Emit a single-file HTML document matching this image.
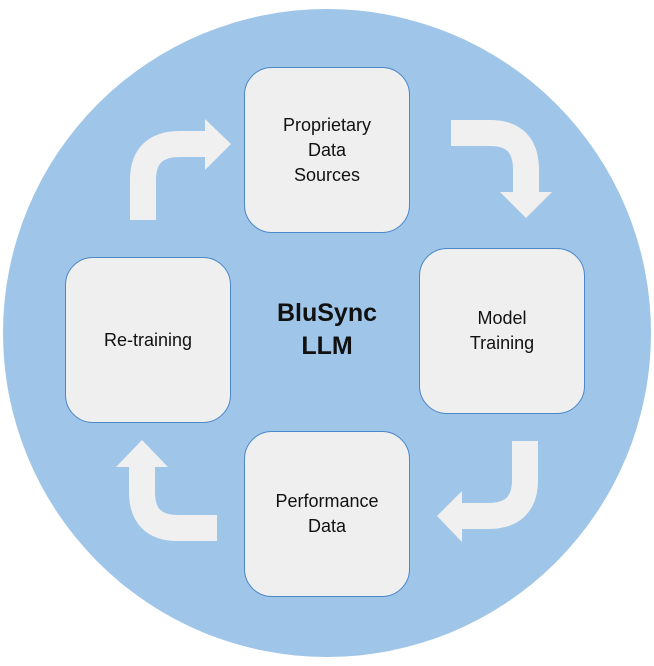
<!DOCTYPE html>
<html><head><style>
html,body{margin:0;padding:0;background:#fff;}
.box{position:absolute;width:166px;height:166px;background:#efefef;border:1.5px solid #4a86c8;border-radius:28px;box-sizing:border-box;display:flex;align-items:center;justify-content:center;text-align:center;font-family:"Liberation Sans",sans-serif;font-size:18px;line-height:25px;color:#111;}
</style></head><body>
<div style="position:relative;width:654px;height:666px;overflow:hidden;">
<svg width="654" height="666" style="position:absolute;left:0;top:0">
<circle cx="327" cy="333" r="324" fill="#9fc5e8"/>
<g fill="none" stroke="#f0f0f0" stroke-width="26">
<path d="M143 220 V180 Q143 144 180 144 H208"/>
<path d="M451 133 H490 Q526 133 526 170 V195"/>
<path d="M525 441 V480 Q525 516 488 516 H462"/>
<path d="M217 528 H178 Q142 528 142 492 V466"/>
</g>
<g fill="#f0f0f0">
<polygon points="205,119 231,144 205,170"/>
<polygon points="500,192 552,192 526,218"/>
<polygon points="462,491 462,542 437,516"/>
<polygon points="116,467 168,467 142,440"/>
</g>
</svg>
<div class="box" style="left:244px;top:67px">Proprietary<br>Data<br>Sources</div>
<div class="box" style="left:419px;top:248px">Model<br>Training</div>
<div class="box" style="left:244px;top:431px">Performance<br>Data</div>
<div class="box" style="left:65px;top:257px">Re-training</div>
<div style="position:absolute;left:247px;top:297px;width:160px;text-align:center;font-family:'Liberation Sans',sans-serif;font-weight:bold;font-size:25px;line-height:33px;color:#111;">BluSync<br>LLM</div>
</div>
</body></html>
